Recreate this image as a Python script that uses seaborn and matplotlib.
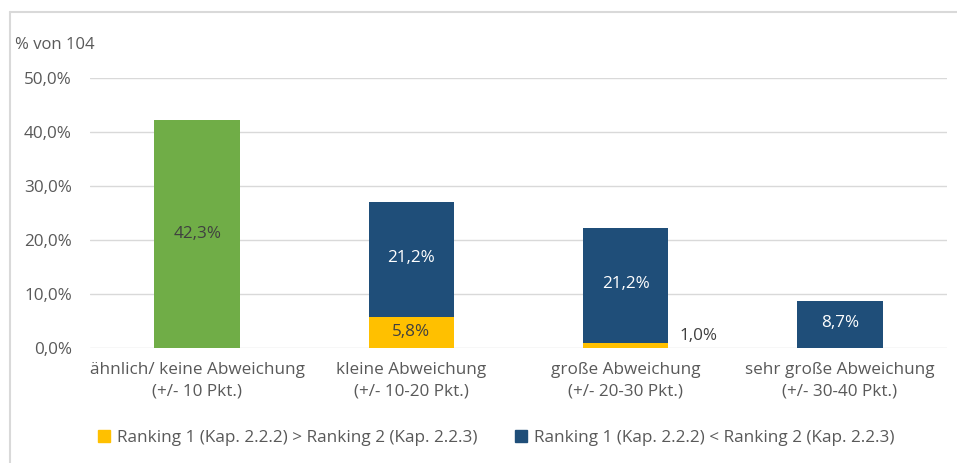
"""Stacked bar chart: deviation between ranking 1 and ranking 2."""

import matplotlib

matplotlib.use("Agg")
import matplotlib.pyplot as plt
from matplotlib.patches import Patch
import pandas as pd
import seaborn as sns

categories = [
    "ähnlich/ keine Abweichung\n(+/- 10 Pkt.)",
    "kleine Abweichung\n(+/- 10-20 Pkt.)",
    "große Abweichung\n(+/- 20-30 Pkt.)",
    "sehr große Abweichung\n(+/- 30-40 Pkt.)",
]
aehnlich = [42.3, 0.0, 0.0, 0.0]
ranking_gt = [0.0, 5.8, 1.0, 0.0]
ranking_lt = [0.0, 21.2, 21.2, 8.7]
yticks = [0, 10, 20, 30, 40, 50]

legend_gt = "Ranking 1 (Kap. 2.2.2) > Ranking 2 (Kap. 2.2.3)"
legend_lt = "Ranking 1 (Kap. 2.2.2) < Ranking 2 (Kap. 2.2.3)"

GREEN = "#70AD47"
YELLOW = "#FFC000"
BLUE = "#1F4E79"
GREY = "#595959"
DARK = "#404040"
FS = 12.3

sns.set_theme(style="white")
plt.rcParams["font.family"] = ["Open Sans", "DejaVu Sans"]

df = pd.DataFrame({
    "cat": categories,
    "aehnlich": aehnlich,
    "gt": ranking_gt,
    "lt": ranking_lt,
})
df["total"] = df["aehnlich"] + df["gt"] + df["lt"]

fig = plt.figure(figsize=(9.57, 4.63), dpi=100)
ax = fig.add_axes([90 / 957, 1 - 348 / 463, 857 / 957, 270 / 463])

# full stack first, then the lower (yellow) part on top of it
sns.barplot(data=df, x="cat", y="total", hue="cat",
            palette=[GREEN, BLUE, BLUE, BLUE], legend=False,
            width=0.4, saturation=1, linewidth=0, ax=ax, zorder=2)
sns.barplot(data=df, x="cat", y="gt", color=YELLOW,
            width=0.4, saturation=1, linewidth=0, ax=ax, zorder=3)

ax.set_xlim(-0.5, 3.5)
ax.set_ylim(0, 50)
ax.set_yticks(yticks)
ax.set_yticklabels([f"{v:.1f}%".replace(".", ",") for v in yticks])
ax.yaxis.grid(True, color="#D9D9D9", linewidth=1)
ax.set_axisbelow(True)
for s in ax.spines.values():
    s.set_visible(False)
ax.set_xlabel("")
ax.set_ylabel("")
ax.tick_params(axis="both", length=0, colors=GREY, labelsize=FS)
ax.tick_params(axis="y", pad=13)
ax.tick_params(axis="x", pad=10)
for lbl in ax.get_xticklabels():
    lbl.set_linespacing(1.45)


def fmt(v):
    return f"{v:.1f}%".replace(".", ",")


for i in range(len(categories)):
    if aehnlich[i] > 0:
        ax.text(i, aehnlich[i] / 2, fmt(aehnlich[i]), ha="center", va="center",
                color=DARK, fontsize=FS)
    if ranking_lt[i] > 0:
        ax.text(i, ranking_gt[i] + ranking_lt[i] / 2 + 0.3, fmt(ranking_lt[i]),
                ha="center", va="center", color="white", fontsize=FS)
    if ranking_gt[i] >= 3:
        ax.text(i, ranking_gt[i] / 2, fmt(ranking_gt[i]), ha="center", va="center",
                color=DARK, fontsize=FS)
    elif ranking_gt[i] > 0:
        ax.annotate(fmt(ranking_gt[i]), (i + 0.2, ranking_gt[i]),
                    xytext=(8, 4.5), textcoords="offset points",
                    ha="left", va="center", color=DARK, fontsize=FS)

fig.text(15 / 957, 1 - 45 / 463, "% von 104", ha="left", va="center",
         color=GREY, fontsize=12)

handles = [Patch(color=YELLOW), Patch(color=BLUE)]
fig.legend(handles, [legend_gt, legend_lt], loc="center",
           bbox_to_anchor=(496 / 957, 1 - 438 / 463), ncol=2, frameon=False,
           handlelength=0.7, handleheight=0.7, handletextpad=0.4,
           columnspacing=2.2, fontsize=FS, labelcolor=GREY)

# outer chart frame (only left and top edges visible in the crop)
fig.add_artist(plt.Line2D([10 / 957, 10 / 957], [0, 1 - 12 / 463],
                          transform=fig.transFigure, color="#D9D9D9", linewidth=1.5))
fig.add_artist(plt.Line2D([10 / 957, 1], [1 - 12 / 463, 1 - 12 / 463],
                          transform=fig.transFigure, color="#D9D9D9", linewidth=1.5))

fig.savefig("out.png", dpi=100)
